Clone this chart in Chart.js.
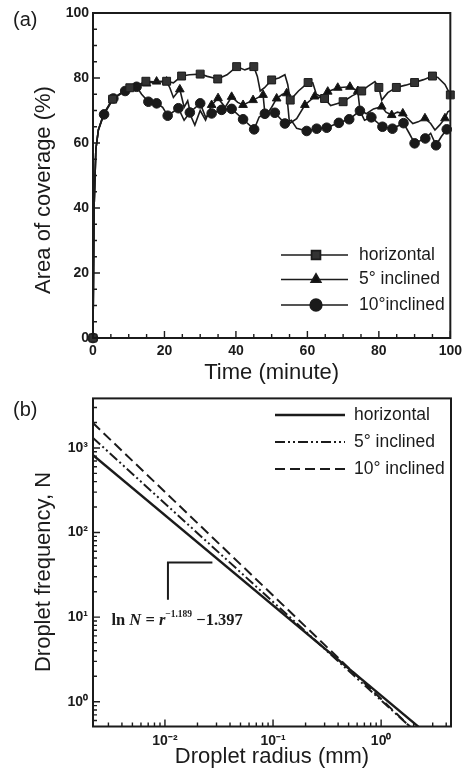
<!DOCTYPE html>
<html>
<head>
<meta charset="utf-8">
<script src="https://cdn.jsdelivr.net/npm/chart.js@4.4.1/dist/chart.umd.min.js"></script>
<style>
  html, body { margin: 0; padding: 0; background: #fff; }
  canvas { position: absolute; left: 0; }
  #chartA { top: 0; }
  #chartB { top: 385px; }
</style>
</head>
<body>
<canvas id="chartA" width="467" height="385"></canvas>
<canvas id="chartB" width="467" height="386"></canvas>
<script>
// ---- (a) area of coverage vs time ----
const horizT = [0, 0.3, 0.8, 1.5, 3, 5.5, 8, 10.3, 12.5, 14.8, 17, 20.6, 22.5, 24.8, 27, 30, 32, 34.9, 37.5, 40.2, 42.5, 45, 46, 46.8, 48, 50, 52, 53.7, 54.5, 55.2, 57.5, 60.2, 61.5, 62.5, 64.8, 66.5, 68, 70, 72.5, 75.2, 77, 78.9, 80, 80.8, 82.5, 84.9, 87.5, 90, 92.5, 95, 96.5, 98.5, 100];
const horizY = [0, 40, 58, 64, 69, 73.5, 75.5, 77, 77.8, 79, 78.8, 79, 78.5, 80.6, 81, 81.2, 80.5, 79.7, 81, 83.5, 82.5, 83.5, 80.5, 76, 77, 79.4, 80, 81, 78, 73.2, 76, 78.6, 78.5, 75, 73.7, 71.5, 72, 72.7, 74.5, 76, 77.5, 78.9, 77.1, 73.2, 75.5, 77.1, 77.8, 78.6, 79.5, 80.6, 80.2, 78, 74.8];
const horizMarks = [0, 5.5, 10.3, 14.8, 20.6, 24.8, 30, 34.9, 40.2, 45, 50, 55.2, 60.2, 64.8, 70, 75.2, 80, 84.9, 90, 95, 100];

const inc5T = [0, 0.3, 0.8, 1.5, 3, 5.5, 8, 10.3, 12.5, 15, 17.8, 20.6, 21.5, 22.5, 24.3, 25.5, 26.5, 27.5, 28.5, 30, 31.5, 33.2, 35, 37, 38.8, 40.5, 42, 44.8, 47.6, 48.2, 50, 51.4, 53, 54.2, 55, 57, 59.3, 62, 65, 65.7, 68.5, 71.9, 74.1, 74.7, 76.5, 78.5, 80.8, 82, 83.6, 85.2, 86.7, 89.5, 91, 92.9, 94.5, 95.7, 97, 98.5, 99.3, 100];
const inc5Y = [0, 40, 58, 64, 69, 73.5, 75.5, 77, 77.5, 78.3, 78.9, 78.9, 77, 74, 76.5, 71, 73, 68, 65.5, 70, 67, 71.7, 73.8, 71, 74.2, 72.5, 71.7, 73.2, 74.8, 68, 71, 73.7, 75, 75.3, 66, 67.5, 71.7, 74.3, 73.7, 75.8, 77, 77.3, 76, 70.2, 69, 70.5, 71.2, 69.5, 68.6, 69.5, 69.1, 66, 66.5, 67.6, 66, 64, 65.5, 67.6, 69.6, 70];
const inc5Marks = [0, 15, 17.8, 20.6, 24.3, 33.2, 35, 38.8, 42, 44.8, 47.6, 51.4, 54.2, 59.3, 62, 65.7, 68.5, 71.9, 74.1, 80.8, 83.6, 86.7, 92.9, 98.5];

const inc10T = [0, 0.3, 0.8, 1.5, 3.1, 5.7, 9, 12.2, 13.6, 15.5, 17.8, 19.5, 20.9, 23.9, 25.5, 27.1, 30, 31.5, 33.2, 36, 38.8, 42, 45.1, 46.5, 48.1, 50.9, 53.7, 55.5, 57, 59.8, 62.6, 65.4, 68.8, 71.7, 74.7, 76, 77.9, 81, 83.8, 86.9, 88.5, 90, 93, 94.5, 96, 97.5, 99, 100];
const inc10Y = [0, 40, 58, 64, 68.8, 73.7, 76, 77.3, 75, 72.7, 72.2, 71, 68.4, 70.7, 67, 69.4, 72.2, 68, 69.1, 70.2, 70.5, 67.3, 64.2, 68, 69, 69.3, 66, 67, 64.5, 63.7, 64.4, 64.7, 66.2, 67.3, 69.9, 67, 67.9, 65, 64.4, 66.1, 63, 59.9, 61.4, 63, 59.3, 62, 64.2, 63.5];
const inc10Marks = [0, 3.1, 5.7, 9, 12.2, 15.5, 17.8, 20.9, 23.9, 27.1, 30, 33.2, 36, 38.8, 42, 45.1, 48.1, 50.9, 53.7, 59.8, 62.6, 65.4, 68.8, 71.7, 74.7, 77.9, 81, 83.8, 86.9, 90, 93, 96, 99];

const legendA = ['horizontal', '5° inclined', '10°inclined'];

// ---- (b) droplet frequency vs radius (log-log fits) ----
const horizR = [0.00215, 2.21];
const horizN = [825, 0.508];
const inc5R = [0.00215, 1.85];
const inc5N = [1320, 0.508];
const inc10R = [0.00215, 1.85];
const inc10N = [1980, 0.508];
const slopeR = [0.01066, 0.01066, 0.02748];
const slopeN = [16.1, 44.4, 44.4];

const radiusTicks = [0.01, 0.1, 1];
const radiusLabels = ['10⁻²', '10⁻¹', '10⁰'];
const freqTicks = [1, 10, 100, 1000];
const freqLabels = ['10⁰', '10¹', '10²', '10³'];
const legendB = ['horizontal', '5° inclined', '10° inclined'];

const INK = '#1b1b1b';
const SANS = "'Liberation Sans', Arial, sans-serif";
const SERIF = "'Liberation Serif', 'Times New Roman', serif";

function pts(xs, ys) {
    return xs.map((v, i) => ({ x: v, y: ys[i] }));
}

function markerRadius(r) {
    return ctx => (ctx.raw && ctx.dataset.marks.includes(ctx.raw.x)) ? r : 0;
}

const tickFont = { family: SANS, size: 14, weight: 'bold' };
const titleFont = { family: SANS, size: 22, lineHeight: 1 };

function drawFrame(chart) {
    const { ctx, chartArea: a } = chart;
    ctx.save();
    ctx.strokeStyle = INK;
    ctx.lineWidth = 2;
    ctx.strokeRect(a.left, a.top, a.right - a.left, a.bottom - a.top);
    ctx.restore();
}

function drawTick(ctx, x1, y1, x2, y2) {
    ctx.moveTo(x1, y1);
    ctx.lineTo(x2, y2);
}

// vertical axis title, centred where the original puts it
function drawYTitle(ctx, text, cx, cy) {
    ctx.save();
    ctx.translate(cx, cy);
    ctx.rotate(-Math.PI / 2);
    ctx.fillStyle = INK;
    ctx.font = `22px ${SANS}`;
    ctx.textAlign = 'center';
    ctx.textBaseline = 'middle';
    ctx.fillText(text, 0, 0);
    ctx.restore();
}

const decorA = {
    id: 'decorA',
    afterDatasetsDraw(chart) {
        const { ctx, chartArea: a, scales: { x, y } } = chart;
        drawFrame(chart);
        ctx.save();
        ctx.strokeStyle = INK;
        ctx.lineWidth = 1.4;
        ctx.beginPath();
        for (let v = 0; v <= 100; v += 5) {
            const len = v % 20 === 0 ? 7 : 4;
            const px = x.getPixelForValue(v);
            const py = y.getPixelForValue(v);
            drawTick(ctx, px, a.bottom, px, a.bottom - len);
            drawTick(ctx, a.left, py, a.left + len, py);
        }
        ctx.stroke();

        ctx.fillStyle = INK;
        ctx.font = `20px ${SANS}`;
        ctx.textBaseline = 'middle';
        ctx.fillText('(a)', 13, 20);

        // legend: line with marker in the middle
        const rows = [255, 279.5, 305];
        chart.data.datasets.forEach((ds, i) => {
            const yy = rows[i];
            ctx.beginPath();
            ctx.lineWidth = 1.7;
            ctx.strokeStyle = INK;
            ctx.moveTo(281, yy);
            ctx.lineTo(348, yy);
            ctx.stroke();
            ctx.fillStyle = ds.pointBackgroundColor;
            Chart.helpers.drawPoint(ctx, {
                pointStyle: ds.pointStyle,
                radius: ds.legendRadius,
                rotation: 0,
                borderWidth: 1
            }, 316, yy);
            ctx.fillStyle = INK;
            ctx.font = `17.5px ${SANS}`;
            ctx.fillText(legendA[i], 359, yy);
        });
        ctx.restore();
        drawYTitle(ctx, 'Area of coverage (%)', 44, 190);
    }
};

const decorB = {
    id: 'decorB',
    afterDatasetsDraw(chart) {
        const { ctx, chartArea: a, scales: { x, y } } = chart;
        drawFrame(chart);
        ctx.save();
        ctx.strokeStyle = INK;
        ctx.lineWidth = 1.4;
        ctx.beginPath();
        for (let e = -4; e <= 4; e++) {
            for (let m = 1; m <= 9; m++) {
                const v = m * Math.pow(10, e);
                const len = m === 1 ? 7 : 4;
                if (v >= x.min && v <= x.max) {
                    const px = x.getPixelForValue(v);
                    drawTick(ctx, px, a.bottom, px, a.bottom - len);
                }
                if (v >= y.min && v <= y.max) {
                    const py = y.getPixelForValue(v);
                    drawTick(ctx, a.left, py, a.left + len, py);
                }
            }
        }
        ctx.stroke();

        ctx.fillStyle = INK;
        ctx.font = `20px ${SANS}`;
        ctx.textBaseline = 'middle';
        ctx.fillText('(b)', 13, 25);

        // legend
        const rows = [30, 57, 84];
        chart.data.datasets.slice(0, 3).forEach((ds, i) => {
            const yy = rows[i];
            ctx.beginPath();
            ctx.lineWidth = ds.borderWidth;
            ctx.setLineDash(ds.borderDash || []);
            ctx.moveTo(275, yy);
            ctx.lineTo(345, yy);
            ctx.stroke();
            ctx.setLineDash([]);
            ctx.font = `17.5px ${SANS}`;
            ctx.fillText(legendB[i], 354, yy);
        });

        // fitted relation
        let px = x.getPixelForValue(0.0032);
        const base = y.getPixelForValue(8.0);
        ctx.textBaseline = 'alphabetic';
        const parts = [
            ['ln ', 'bold 16.5px'],
            ['N', 'italic bold 16.5px'],
            [' = ', 'bold 16.5px'],
            ['r', 'italic bold 16.5px'],
            ['−1.189', 'bold 9.5px', -8],
            [' −1.397', 'bold 16.5px']
        ];
        parts.forEach(([txt, f, dy]) => {
            ctx.font = `${f} ${SERIF}`;
            ctx.fillText(txt, px, base + (dy || 0));
            px += ctx.measureText(txt).width;
        });
        ctx.restore();
        drawYTitle(ctx, 'Droplet frequency, N', 44, 187);
    }
};

new Chart(document.getElementById('chartA'), {
    type: 'line',
    data: {
        datasets: [
            {
                label: legendA[0],
                data: pts(horizT, horizY),
                marks: horizMarks,
                pointStyle: 'rect',
                pointRadius: markerRadius(5.6),
                legendRadius: 6.3,
                pointBackgroundColor: '#333',
                pointBorderColor: INK,
                pointBorderWidth: 1,
                borderColor: INK,
                borderWidth: 1.6,
                tension: 0,
                clip: 6
            },
            {
                label: legendA[1],
                data: pts(inc5T, inc5Y),
                marks: inc5Marks,
                pointStyle: 'triangle',
                pointRadius: markerRadius(5),
                legendRadius: 5.5,
                pointBackgroundColor: '#111',
                pointBorderColor: INK,
                pointBorderWidth: 1,
                borderColor: INK,
                borderWidth: 1.6,
                tension: 0,
                clip: 6
            },
            {
                label: legendA[2],
                data: pts(inc10T, inc10Y),
                marks: inc10Marks,
                pointStyle: 'circle',
                pointRadius: markerRadius(4.8),
                legendRadius: 5.8,
                pointBackgroundColor: '#1a1a1a',
                pointBorderColor: INK,
                pointBorderWidth: 1,
                borderColor: INK,
                borderWidth: 1.6,
                tension: 0,
                clip: 6
            }
        ]
    },
    options: {
        responsive: false,
        animation: false,
        layout: { padding: { top: 13, right: 16, left: 0, bottom: 0 } },
        plugins: { legend: { display: false }, tooltip: { enabled: false } },
        scales: {
            x: {
                type: 'linear',
                min: 0,
                max: 100,
                ticks: { stepSize: 20, color: INK, font: tickFont, padding: 5, maxRotation: 0 },
                grid: { display: false, drawTicks: false },
                border: { display: false },
                title: { display: true, text: 'Time (minute)', color: INK, font: titleFont, padding: { top: 0, bottom: 1 } },
                afterFit: s => { s.height = 47; }
            },
            y: {
                min: 0,
                max: 100,
                ticks: { stepSize: 20, color: INK, font: tickFont, padding: 4 },
                grid: { display: false, drawTicks: false },
                border: { display: false },
                afterFit: s => { s.width = 93; }
            }
        }
    },
    plugins: [decorA]
});

new Chart(document.getElementById('chartB'), {
    type: 'line',
    data: {
        datasets: [
            { label: legendB[0], data: pts(horizR, horizN), borderColor: INK, borderWidth: 2.4, pointRadius: 0 },
            { label: legendB[1], data: pts(inc5R, inc5N), borderColor: INK, borderWidth: 2, borderDash: [10, 3, 2, 3, 2, 3], pointRadius: 0 },
            { label: legendB[2], data: pts(inc10R, inc10N), borderColor: INK, borderWidth: 2, borderDash: [10, 5], pointRadius: 0 },
            { label: 'slope', data: pts(slopeR, slopeN), borderColor: INK, borderWidth: 2, pointRadius: 0 }
        ]
    },
    options: {
        responsive: false,
        animation: false,
        layout: { padding: { top: 12, right: 16, left: 0, bottom: 0 } },
        plugins: { legend: { display: false }, tooltip: { enabled: false } },
        scales: {
            x: {
                type: 'logarithmic',
                min: 0.00216,
                max: 4.43,
                afterBuildTicks: s => { s.ticks = radiusTicks.map(v => ({ value: v })); },
                ticks: {
                    color: INK, font: tickFont, padding: 6, maxRotation: 0, autoSkip: false,
                    callback: v => radiusLabels[radiusTicks.indexOf(v)]
                },
                grid: { display: false, drawTicks: false },
                border: { display: false },
                title: { display: true, text: 'Droplet radius (mm)', color: INK, font: titleFont, padding: { top: 0, bottom: 3 } },
                afterFit: s => { s.height = 44.5; }
            },
            y: {
                type: 'logarithmic',
                min: 0.51,
                max: 3850,
                afterBuildTicks: s => { s.ticks = freqTicks.map(v => ({ value: v })); },
                ticks: {
                    color: INK, font: tickFont, padding: 5, autoSkip: false,
                    callback: v => freqLabels[freqTicks.indexOf(v)]
                },
                grid: { display: false, drawTicks: false },
                border: { display: false },
                afterFit: s => { s.width = 93; }
            }
        }
    },
    plugins: [decorB]
});
</script>
</body>
</html>
